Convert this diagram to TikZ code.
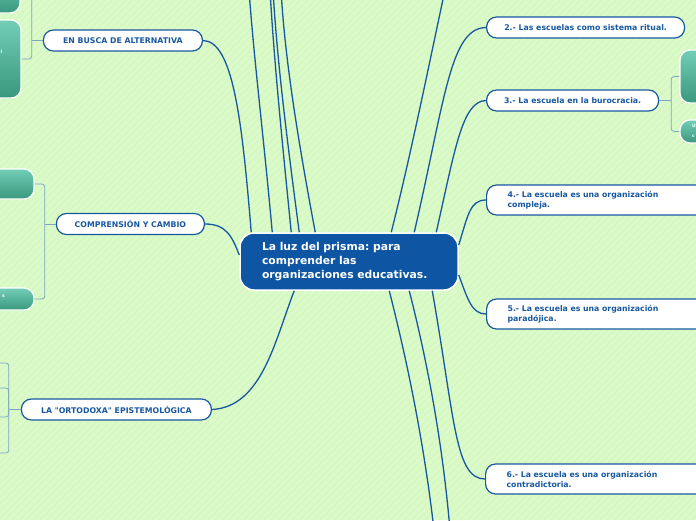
\documentclass[tikz,border=0pt]{standalone}
\usepackage{fontspec}
\newfontfamily\mapfont{DejaVu Sans}
\frenchspacing
\definecolor{bgmint}{RGB}{218,250,199}
\definecolor{stripemint}{RGB}{209,243,191}
\definecolor{prismblue}{RGB}{14,86,164}
\definecolor{linkblue}{RGB}{24,88,160}
\definecolor{tealtop}{RGB}{114,206,182}
\definecolor{tealbot}{RGB}{58,152,126}
\definecolor{bracketblue}{RGB}{122,168,196}

\begin{document}
\begin{tikzpicture}[
    x=1pt, y=-1pt,
    central/.style={
        draw=white,
        line width=1.5pt,
        fill=prismblue,
        rounded corners=14pt,
        text=white,
        font=\mapfont\bfseries\fontsize{10.8}{13.6}\selectfont,
        text width=174pt,
        inner xsep=22pt,
        align=left,
        minimum height=57pt
    },
    branch/.style={
        draw=linkblue,
        line width=1.2pt,
        fill=white,
        rounded corners=10pt,
        minimum height=21pt,
        inner xsep=0pt,
        text=linkblue,
        font=\mapfont\bfseries\fontsize{7.8}{10}\selectfont
    },
    longbranch/.style={
        branch,
        minimum height=30pt,
        text width=200pt,
        inner xsep=21pt,
        align=left
    },
    leaf/.style={
        draw=white,
        line width=1.2pt,
        rounded corners=10pt,
        top color=tealtop,
        bottom color=tealbot
    },
    frag/.style={
        text=white,
        inner sep=0pt,
        align=left,
        font=\mapfont\bfseries\fontsize{4.5}{10}\selectfont
    },
    link/.style={draw=linkblue, line width=1.3pt},
    bracket/.style={draw=bracketblue, line width=0.8pt, rounded corners=3pt}
]

% Fond
\useasboundingbox (0,0) rectangle (696,520);
\clip (0,0) rectangle (696,520);
\fill[bgmint] (0,0) rectangle (696,520);
\foreach \k in {-520,-513,...,696}
    \draw[stripemint, line width=0.4pt] (\k,520) -- ++(520,-520);

% Nœud central
\node[central] (prisma) at (349,261.5) {La luz del prisma: para\\comprender las\\organizaciones educativas.};

% Branches gauche
\node[branch, minimum width=159pt, anchor=east] (alternativa) at (203,40.5) {EN BUSCA DE ALTERNATIVA};
\node[branch, minimum width=148pt, anchor=east] (comprension) at (205,224) {COMPRENSIÓN Y CAMBIO};
\node[branch, minimum width=190pt, anchor=east] (ortodoxa) at (212,409.5) {LA "ORTODOXA" EPISTEMOLÓGICA};

% Branches droite
\node[branch, minimum width=198pt, anchor=west] (ritual) at (486,27.5) {2.- Las escuelas como sistema ritual.};
\node[branch, minimum width=172pt, anchor=west] (burocracia) at (486,100.5) {3.- La escuela en la burocracia.};
\node[longbranch, anchor=west] (compleja) at (486,200) {4.- La escuela es una organización\\compleja.};
\node[longbranch, anchor=west] (paradojica) at (486,314) {5.- La escuela es una organización\\paradójica.};
\node[longbranch, anchor=west] (contradictoria) at (485,479) {6.- La escuela es una organización\\contradictoria.};

% Feuilles
\node[leaf, minimum width=40pt, minimum height=38pt] (altA) at (0,-6) {};
\node[leaf, minimum width=41pt, minimum height=78pt] (altB) at (0.5,59) {};
\node[leaf, minimum width=74pt, minimum height=30pt] (compA) at (-3,184) {};
\node[leaf, minimum width=74pt, minimum height=22pt] (compB) at (-3,299) {};
\node[leaf, minimum width=50pt, minimum height=53pt] (buroA) at (705,76.5) {};
\node[leaf, minimum width=50pt, minimum height=23pt] (buroB) at (705,131.5) {};
\node[frag, anchor=west] (altBtext) at (0.5,51.5) {l};
\node[frag, anchor=east] (compBtext) at (5,296) {s};
\node[frag, anchor=west] (buroBtext) at (692,131) {U\\c};

% Points hors cadre
\coordinate (up1) at (249,-10);
\coordinate (up2) at (270,-10);
\coordinate (up3) at (273,-10);
\coordinate (up4) at (281,-10);
\coordinate (up5) at (445,-10);
\coordinate (dn1) at (434,530);
\coordinate (dn2) at (450,530);
\coordinate (orto1) at (-3,363);
\coordinate (orto2) at (-3,388);
\coordinate (orto3) at (-3,417);
\coordinate (orto4) at (-3,453);

% Liens centraux
\draw[link] ([xshift=12pt]prisma.north west) .. controls (242,120) and (233,41) .. (alternativa.east);
\draw[link] ([yshift=6.5pt]prisma.west) .. controls (232,236) and (226,224) .. (comprension.east);
\draw[link] ([xshift=55pt]prisma.south west) .. controls (275,340) and (262,407) .. (ortodoxa.east);
\draw[link] ([xshift=33pt]prisma.north west) .. controls (264,140) and (254,60) .. (up1);
\draw[link] ([xshift=52pt]prisma.north west) .. controls (282,140) and (274,60) .. (up2);
\draw[link] ([xshift=60pt]prisma.north west) .. controls (287,140) and (277,60) .. (up3);
\draw[link] ([xshift=76pt]prisma.north west) .. controls (298,140) and (285,60) .. (up4);
\draw[link] ([xshift=152pt]prisma.north west) .. controls (412,150) and (432,50) .. (up5);
\draw[link] ([xshift=175pt]prisma.north west) .. controls (445,100) and (450,28) .. (ritual.west);
\draw[link] ([xshift=197pt]prisma.north west) .. controls (455,150) and (462,101) .. (burocracia.west);
\draw[link] ([yshift=16.5pt]prisma.east) .. controls (468,215) and (470,200) .. (compleja.west);
\draw[link] ([yshift=-13.5pt]prisma.east) .. controls (468,300) and (472,314) .. (paradojica.west);
\draw[link] ([xshift=193pt]prisma.south west) .. controls (455,420) and (455,479) .. (contradictoria.west);
\draw[link] ([xshift=150pt]prisma.south west) .. controls (412,380) and (426,460) .. (dn1);
\draw[link] ([xshift=170pt]prisma.south west) .. controls (432,380) and (444,460) .. (dn2);

% Accolades
\coordinate (altJ) at ([xshift=-11pt]alternativa.west);
\coordinate (compJ) at ([xshift=-11pt]comprension.west);
\coordinate (ortoJ) at ([xshift=-12pt]ortodoxa.west);
\coordinate (buroJ) at ([xshift=12pt]burocracia.east);
\draw[bracket] (altA.east) -| (altJ) |- (altB.east);
\draw[bracket] (altJ) -- (alternativa.west);
\draw[bracket] (compA.east) -| (compJ) |- (compB.east);
\draw[bracket] (compJ) -- (comprension.west);
\draw[bracket] (orto1) -| (ortoJ) |- (orto4);
\draw[bracket] (orto2) -| (ortoJ);
\draw[bracket] (orto3) -| (ortoJ);
\draw[bracket] (ortoJ) -- (ortodoxa.west);
\draw[bracket] (buroA.west) -| (buroJ) |- (buroB.west);
\draw[bracket] (buroJ) -- (burocracia.east);

\end{tikzpicture}
\end{document}
